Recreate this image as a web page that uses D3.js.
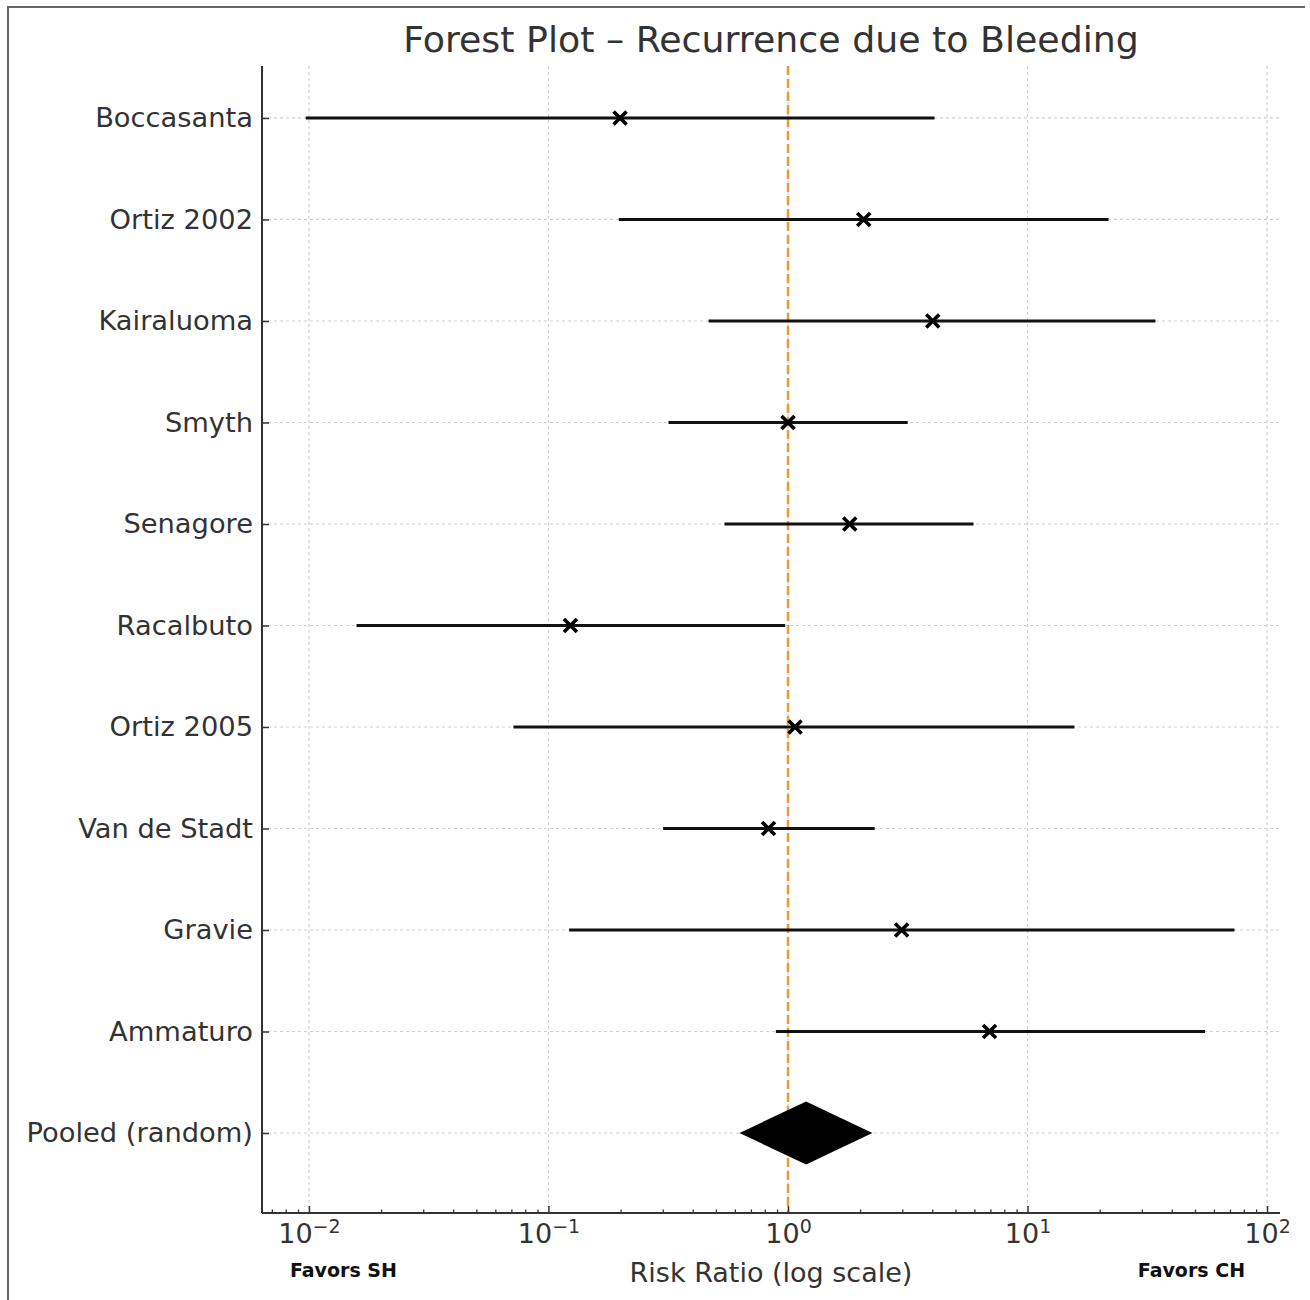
<!DOCTYPE html>
<html>
<head>
<meta charset="utf-8">
<script src="https://cdn.jsdelivr.net/npm/d3@7"></script>
<style>
  html, body { margin: 0; padding: 0; background: #fff; }
  text { font-family: "DejaVu Sans", sans-serif; }
</style>
</head>
<body>
<svg id="chart" width="1310" height="1300"></svg>
<script>
// ---- data ----
const studies = ["Boccasanta", "Ortiz 2002", "Kairaluoma", "Smyth", "Senagore", "Racalbuto",
                 "Ortiz 2005", "Van de Stadt", "Gravie", "Ammaturo"];
const estimates = [0.199, 2.07, 4.02, 1.0, 1.81, 0.1235, 1.07, 0.829, 2.98, 6.94];
const lowerCI   = [0.0097, 0.1966, 0.466, 0.317, 0.543, 0.0158, 0.0714, 0.301, 0.122, 0.89];
const upperCI   = [4.09, 21.8, 34.2, 3.16, 5.95, 0.973, 15.7, 2.30, 73.1, 55.1];
const pooledLabel = "Pooled (random)";
const pooled = [0.627, 1.19, 2.25]; // lower, estimate, upper
const majorTicks = [1e-2, 1e-1, 1e0, 1e1, 1e2];
const tickExponents = ["−2", "−1", "0", "1", "2"];
const titleText = "Forest Plot – Recurrence due to Bleeding";
const xLabel = "Risk Ratio (log scale)";
const leftNote = "Favors SH";
const rightNote = "Favors CH";

// ---- layout ----
const svg = d3.select("#chart");
const L = 262, R = 1280, T = 66, B = 1213;
const labels = studies.concat([pooledLabel]);

const x = d3.scaleLog().domain([Math.pow(10, -2.196), Math.pow(10, 2.054)]).range([L, R]);
const y = d3.scaleLinear().domain([-0.512, 10.788]).range([T, B]);

svg.append("rect").attr("width", 1310).attr("height", 1300).attr("fill", "#fff");

// outer frame (left + top)
svg.append("path").attr("d", "M8,1300 L8,7 L1305,7").attr("fill", "none")
   .attr("stroke", "#666").attr("stroke-width", 2);

// grid
const grid = svg.append("g");
grid.selectAll("line.v").data(majorTicks).join("line")
  .attr("x1", d => x(d)).attr("x2", d => x(d)).attr("y1", T).attr("y2", B)
  .attr("stroke", "#d0d0d0").attr("stroke-width", 1.2).attr("stroke-dasharray", "3,3");
grid.selectAll("line.h").data(labels).join("line")
  .attr("x1", L).attr("x2", R).attr("y1", (d, i) => y(i)).attr("y2", (d, i) => y(i))
  .attr("stroke", "#d0d0d0").attr("stroke-width", 1.2).attr("stroke-dasharray", "3,3");

// reference line
svg.append("line").attr("x1", x(1)).attr("x2", x(1)).attr("y1", T).attr("y2", B)
  .attr("stroke", "#E5A030").attr("stroke-width", 2.6).attr("stroke-dasharray", "9,4");

// CI lines
const rows = studies.map((s, i) => ({ s, i, est: estimates[i], lo: lowerCI[i], hi: upperCI[i] }));
svg.append("g").selectAll("line").data(rows).join("line")
  .attr("x1", d => x(d.lo)).attr("x2", d => x(d.hi))
  .attr("y1", d => y(d.i)).attr("y2", d => y(d.i))
  .attr("stroke", "#111").attr("stroke-width", 3);

// x markers
const m = 6.5;
svg.append("g").selectAll("path").data(rows).join("path")
  .attr("d", d => {
    const cx = x(d.est), cy = y(d.i);
    return `M${cx - m},${cy - m}L${cx + m},${cy + m}M${cx - m},${cy + m}L${cx + m},${cy - m}`;
  })
  .attr("stroke", "#000").attr("stroke-width", 3.6).attr("fill", "none");

// pooled diamond
const pi = studies.length;
const h = 0.31;
svg.append("path")
  .attr("d", `M${x(pooled[0])},${y(pi)}L${x(pooled[1])},${y(pi - h)}L${x(pooled[2])},${y(pi)}L${x(pooled[1])},${y(pi + h)}Z`)
  .attr("fill", "#000");

// axes
const xAxis = svg.append("g").attr("transform", `translate(0,${B})`)
  .call(d3.axisBottom(x).tickValues(majorTicks).tickSizeInner(-7).tickSizeOuter(0).tickPadding(12).tickFormat(() => ""));
const minorTicks = x.ticks().filter(v => !majorTicks.some(t => Math.abs(t - v) / t < 1e-9));
svg.append("g").attr("transform", `translate(0,${B})`)
  .call(d3.axisBottom(x).tickValues(minorTicks).tickSizeInner(-3.5).tickSizeOuter(0).tickFormat(() => ""))
  .call(g => g.select(".domain").remove());
xAxis.select(".domain").attr("stroke", "#333").attr("stroke-width", 2).attr("d", `M${L},0H${R}`);
svg.selectAll(".tick line").attr("stroke", "#333").attr("stroke-width", 1.3);
xAxis.selectAll(".tick line").attr("stroke", "#333").attr("stroke-width", 1.5);
xAxis.selectAll(".tick text").each(function (d, i) {
  const t = d3.select(this);
  t.text(null).attr("font-size", 27).attr("fill", "#333").attr("y", 11);
  t.append("tspan").text("10");
  t.append("tspan").text(tickExponents[i]).attr("font-size", 19).attr("dy", "-0.55em");
});

const yAxis = svg.append("g").attr("transform", `translate(${L},0)`)
  .call(d3.axisLeft(y).tickValues(d3.range(labels.length)).tickSizeInner(-7).tickSizeOuter(0).tickPadding(10)
        .tickFormat(i => labels[i]));
yAxis.select(".domain").attr("stroke", "#333").attr("stroke-width", 2).attr("d", `M0,${T}V${B}`);
yAxis.selectAll(".tick line").attr("stroke", "#333").attr("stroke-width", 1.5);
yAxis.selectAll(".tick text").attr("font-size", 27.3).attr("fill", "#333").attr("x", -9);

// title & labels
svg.append("text").attr("x", (L + R) / 2).attr("y", 52).attr("text-anchor", "middle")
  .attr("font-size", 36.3).attr("fill", "#333").text(titleText);
svg.append("text").attr("x", (L + R) / 2).attr("y", 1282).attr("text-anchor", "middle")
  .attr("font-size", 27).attr("fill", "#333").text(xLabel);
svg.append("text").attr("x", L + 0.08 * (R - L)).attr("y", 1277).attr("text-anchor", "middle")
  .attr("font-size", 19).attr("font-weight", "bold").attr("fill", "#111").text(leftNote);
svg.append("text").attr("x", L + 0.913 * (R - L)).attr("y", 1277).attr("text-anchor", "middle")
  .attr("font-size", 19).attr("font-weight", "bold").attr("fill", "#111").text(rightNote);
</script>
</body>
</html>
